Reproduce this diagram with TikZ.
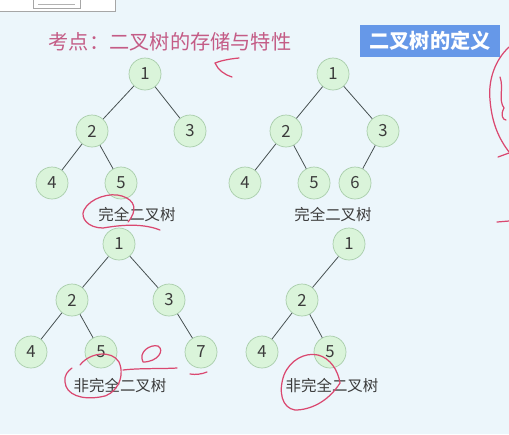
\documentclass[tikz,border=0pt]{standalone}
\usepackage{fontspec}
\setmainfont{Noto Sans CJK SC}
\usetikzlibrary{positioning}
\definecolor{bgblue}{RGB}{236,246,251}
\definecolor{nodegreen}{RGB}{218,244,218}
\definecolor{nodeedge}{RGB}{168,205,170}
\definecolor{edgegray}{RGB}{70,80,80}
\definecolor{textgray}{RGB}{60,60,60}
\definecolor{titlepink}{RGB}{196,92,134}
\definecolor{boxblue}{RGB}{102,152,232}
\definecolor{inkred}{RGB}{218,72,112}

\begin{document}
\begin{tikzpicture}[
    x=0.02cm, y=-0.02cm,
    tnode/.style={circle, draw=nodeedge, fill=nodegreen, minimum size=0.64cm, inner sep=0pt, text=textgray, font=\fontsize{9.5}{11}\selectfont},
    edge/.style={draw=edgegray, line width=0.45pt},
    caption/.style={text=textgray, font=\fontsize{8.8}{10}\selectfont},
    ink/.style={draw=inkred, line width=0.7pt, line cap=round, line join=round}
]
    % Background
    \fill[bgblue] (0,0) rectangle (509,434);
    \useasboundingbox (0,0) rectangle (509,434);

    % Cut-off icon at the top
    \draw[gray!70, fill=white] (-5,-10) rectangle (115,11);
    \draw[gray!70] (33,-10) rectangle (80,8);
    \draw[gray!60] (38,4) -- (75,4);

    % Title and heading box
    \node[text=titlepink, font=\fontsize{11.5}{13}\selectfont] (title) at (170,42) {考点：二叉树的存储与特性};
    \node[fill=boxblue, text=white, font=\bfseries\fontsize{11.5}{13}\selectfont, minimum width=2.8cm, minimum height=0.64cm] (def) at (430,41) {二叉树的定义};

    % Tree A: complete
    \node[tnode] (a1) at (145,74) {1};
    \node[tnode] (a2) at (92,131) {2};
    \node[tnode] (a3) at (190,131) {3};
    \node[tnode] (a4) at (52,183) {4};
    \node[tnode] (a5) at (121,183) {5};
    \node[caption] (acap) at (137,215) {完全二叉树};
    \draw[edge] (a1) -- (a2);
    \draw[edge] (a1) -- (a3);
    \draw[edge] (a2) -- (a4);
    \draw[edge] (a2) -- (a5);

    % Tree B: complete
    \node[tnode] (b1) at (333,74) {1};
    \node[tnode] (b2) at (286,131) {2};
    \node[tnode] (b3) at (383,131) {3};
    \node[tnode] (b4) at (245,183) {4};
    \node[tnode] (b5) at (314,183) {5};
    \node[tnode] (b6) at (355,183) {6};
    \node[caption] (bcap) at (333,215) {完全二叉树};
    \draw[edge] (b1) -- (b2);
    \draw[edge] (b1) -- (b3);
    \draw[edge] (b2) -- (b4);
    \draw[edge] (b2) -- (b5);
    \draw[edge] (b3) -- (b6);

    % Tree C: not complete
    \node[tnode] (c1) at (119,244) {1};
    \node[tnode] (c2) at (72,300) {2};
    \node[tnode] (c3) at (169,300) {3};
    \node[tnode] (c4) at (31,352) {4};
    \node[tnode] (c5) at (101,352) {5};
    \node[tnode] (c7) at (201,352) {7};
    \node[caption] (ccap) at (120,386) {非完全二叉树};
    \draw[edge] (c1) -- (c2);
    \draw[edge] (c1) -- (c3);
    \draw[edge] (c2) -- (c4);
    \draw[edge] (c2) -- (c5);
    \draw[edge] (c3) -- (c7);

    % Tree D: not complete
    \node[tnode] (d1) at (349,244) {1};
    \node[tnode] (d2) at (302,300) {2};
    \node[tnode] (d4) at (262,352) {4};
    \node[tnode] (d5) at (330,352) {5};
    \node[caption] (dcap) at (332,386) {非完全二叉树};
    \draw[edge] (d1) -- (d2);
    \draw[edge] (d2) -- (d4);
    \draw[edge] (d2) -- (d5);

    % Handwritten marks
    \draw[ink] (239,58) .. controls (228,59) and (220,61) .. (215,63) .. controls (218,70) and (225,75) .. (232,77);
    \draw[ink] (160,230) .. controls (140,222) and (115,226) .. (103,228) .. controls (88,228) and (80,218) .. (84,210) .. controls (90,198) and (110,192) .. (122,196) .. controls (135,200) and (138,210) .. (128,222);
    \draw[ink] (80,365) .. controls (90,352) and (112,350) .. (119,362) .. controls (126,378) and (115,396) .. (100,397) .. controls (82,400) and (66,395) .. (65,382) .. controls (64,375) and (68,371) .. (72,368);
    \draw[ink] (123,370) .. controls (140,368) and (160,369) .. (177,368);
    \draw[ink] (143,362) .. controls (138,352) and (150,344) .. (158,346) .. controls (165,350) and (158,362) .. (143,362);
    \draw[ink] (190,374) .. controls (196,375) and (202,374) .. (207,372);
    \draw[ink] (340,383) .. controls (338,370) and (330,358) .. (318,355) .. controls (305,352) and (290,360) .. (284,375) .. controls (278,392) and (282,408) .. (295,410) .. controls (310,410) and (328,402) .. (340,383);
    \draw[ink] (509,47) .. controls (495,60) and (488,80) .. (490,100) .. controls (492,125) and (500,140) .. (509,152);
    \draw[ink] (500,77) .. controls (504,88) and (498,100) .. (504,108) .. controls (500,115) and (503,120) .. (506,120);
    \draw[ink] (498,157) -- (509,153);
    \draw[ink] (497,222) -- (509,221);
\end{tikzpicture}
\end{document}
